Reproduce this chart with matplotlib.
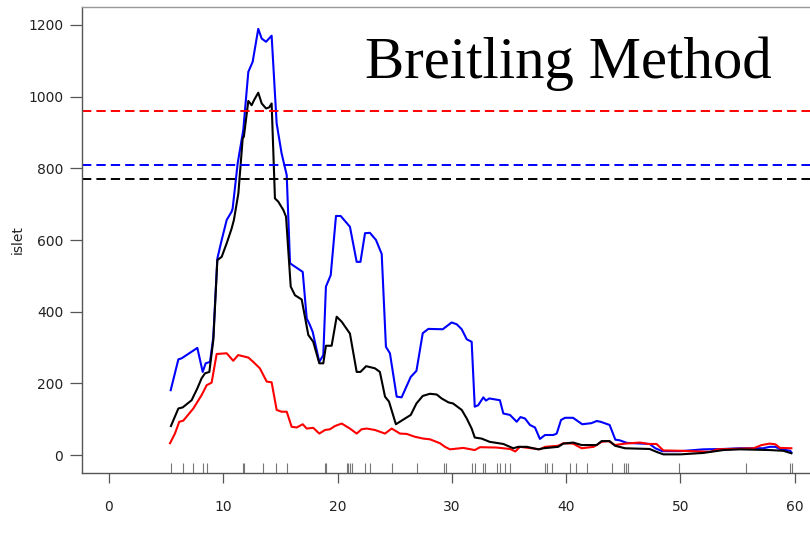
import matplotlib
matplotlib.use("Agg")
import matplotlib.pyplot as plt

# ---- data ----
blue_x = [5.4, 6.07, 6.36, 7.73, 8.2, 8.46, 8.84, 9.13, 9.48, 9.86, 10.3, 10.73, 10.82, 11.26, 11.75,
          12.19, 12.57, 13.06, 13.36, 13.74, 14.23, 14.67, 15.1, 15.55, 15.84, 16.95, 17.3, 17.52,
          17.82, 18.4, 18.75, 18.98, 19.4, 19.86, 20.27, 21.08, 21.67, 22.0, 22.4, 22.83, 23.36,
          23.86, 24.23, 24.58, 25.17, 25.6, 26.4, 26.9, 27.45, 27.94, 29.2, 29.98, 30.42, 30.86,
          31.3, 31.73, 32.0, 32.3, 32.75, 32.98, 33.27, 34.2, 34.5, 35.08, 35.67, 36.0, 36.4, 36.83,
          37.27, 37.7, 38.15, 38.87, 39.17, 39.55, 39.9, 40.6, 41.4, 42.2, 42.67, 43.0, 43.8, 44.3,
          44.7, 45.3, 47.3, 47.8, 48.4, 50.0, 52.0, 53.75, 55.2, 57.25, 57.8, 58.3, 58.7, 59.6, 59.7]
blue_y = [181, 267, 270, 299, 232, 256, 260, 330, 548, 600, 656, 679, 688, 814, 907,
          1069, 1097, 1189, 1162, 1153, 1170, 925, 842, 781, 535, 511, 381, 367,
          344, 260, 279, 470, 502, 667, 667, 637, 539, 539, 619, 620, 600,
          561, 302, 284, 163, 161, 218, 235, 340, 352, 351, 370, 365, 351,
          323, 316, 135, 139, 161, 152, 158, 153, 116, 112, 93, 106, 102, 84,
          77, 45, 56, 56, 60, 98, 104, 104, 86, 89, 95, 93, 84, 43,
          41, 34, 31, 19, 11, 11, 16, 17, 19, 19, 23, 23, 17, 12, 7]

black_x = [5.42, 6.07, 6.45, 7.23, 7.73, 8.1, 8.4, 8.78, 9.13, 9.48, 9.86, 10.3, 10.73, 10.93, 11.32,
           11.7, 11.8, 12.0, 12.19, 12.48, 12.69, 13.06, 13.36, 13.74, 14.02, 14.23, 14.52, 14.81,
           15.25, 15.49, 15.9, 16.27, 16.86, 17.44, 17.87, 18.4, 18.75, 18.98, 19.48, 19.92, 20.36,
           21.08, 21.67, 22.0, 22.5, 23.27, 23.7, 24.15, 24.5, 25.1, 25.9, 26.4, 26.9, 27.45, 28.08,
           28.67, 29.1, 29.7, 30.1, 30.86, 31.3, 31.73, 32.0, 32.6, 33.3, 34.5, 35.37, 35.8, 36.55,
           37.56, 38.0, 39.3, 39.75, 40.6, 41.35, 42.67, 43.1, 43.8, 44.27, 45.15, 47.3, 47.9, 48.5,
           50.0, 52.0, 53.75, 55.2, 57.8, 59.0, 59.7]
black_y = [81, 130, 133, 153, 186, 214, 228, 232, 321, 544, 553, 591, 632, 656, 730,
           884, 888, 939, 988, 976, 990, 1011, 981, 967, 970, 981, 716, 707,
           684, 665, 470, 446, 434, 335, 316, 256, 256, 305, 305, 386, 372,
           339, 232, 232, 248, 242, 232, 163, 149, 86, 102, 112, 144, 165, 171,
           169, 158, 147, 144, 126, 102, 74, 49, 46, 37, 31, 19, 23, 23,
           16, 19, 23, 32, 35, 28, 28, 39, 39, 26, 19, 17, 9, 2,
           2, 6, 14, 16, 14, 12, 5]

red_x = [5.34, 5.77, 6.15, 6.5, 7.38, 8.1, 8.55, 8.98, 9.42, 10.3, 10.87, 11.3, 12.2, 12.62, 13.2,
         13.8, 14.23, 14.67, 15.1, 15.55, 15.98, 16.42, 16.95, 17.3, 17.87, 18.4, 18.9, 19.33,
         19.77, 20.36, 21.08, 21.67, 22.1, 22.55, 23.27, 24.15, 24.73, 25.46, 26.05, 26.77, 27.5,
         28.08, 28.96, 29.4, 29.83, 31.0, 32.0, 32.46, 33.9, 35.1, 35.55, 35.95, 37.7, 38.15,
         39.3, 39.75, 40.6, 41.35, 42.4, 43.1, 43.7, 44.27, 45.15, 46.45, 47.2, 47.9, 48.5,
         50.0, 52.6, 53.2, 56.4, 57.1, 57.8, 58.3, 58.7, 59.7]
red_y = [33, 60, 93, 96, 130, 167, 195, 202, 282, 284, 263, 279, 272, 260, 242,
         205, 203, 126, 121, 121, 79, 77, 86, 74, 76, 60, 70, 72,
         81, 88, 74, 60, 72, 74, 70, 60, 74, 60, 59, 51, 46,
         44, 33, 23, 16, 20, 14, 22, 21, 17, 10, 23, 16, 23,
         26, 33, 32, 19, 23, 37, 39, 28, 32, 35, 31, 31, 13,
         12, 9, 16, 19, 28, 32, 30, 20, 19]

thresholds = [960, 810, 770]
threshold_colors = ["#ff0000", "#0000ff", "#000000"]

rug_x = [5.42, 6.45, 7.38, 8.20, 8.55, 11.75, 11.84, 13.45, 14.61, 15.55, 18.90, 19.03, 20.80,
         20.94, 21.08, 21.30, 22.37, 22.81, 24.73, 26.92, 29.29, 29.47, 31.73, 32.02, 32.69,
         32.90, 33.97, 34.25, 34.65, 35.08, 38.15, 38.36, 38.73, 40.33, 40.86, 41.79, 43.98,
         45.06, 45.23, 45.43, 49.90, 55.73, 59.58, 59.73]

x_ticks = [0, 10, 20, 30, 40, 50, 60]
y_ticks = [0, 200, 400, 600, 800, 1000, 1200]
title = "Breitling Method"
ylabel = "islet"

# ---- figure ----
fig = plt.figure(figsize=(8.1, 5.34), dpi=100)
ax = fig.add_axes([82 / 810, 61 / 534, 1 - 82 / 810, 466 / 534])

lw = 1.5
ax.plot(blue_x, blue_y, color="#0000ff", lw=lw, solid_joinstyle="round")
ax.plot(red_x, red_y, color="#ff0000", lw=lw, solid_joinstyle="round")
ax.plot(black_x, black_y, color="#000000", lw=lw, solid_joinstyle="round")

for v, c in zip(thresholds, threshold_colors):
    ax.axhline(v, color=c, lw=1.4, linestyle=(0, (4.8, 2.6)))

ax.vlines(rug_x, 0, 0.021, transform=ax.get_xaxis_transform(), color="#777777", lw=0.8)

ax.set_xlim(-2.36, 61.33)
ax.set_ylim(-50, 1250)
ax.set_xticks(x_ticks)
ax.set_yticks(y_ticks)

for s in ["left", "bottom"]:
    ax.spines[s].set_color("#555555")
    ax.spines[s].set_linewidth(1.0)
ax.spines["top"].set_color("#999999")
ax.spines["top"].set_linewidth(1.0)
ax.spines["right"].set_visible(False)

ax.tick_params(axis="y", direction="out", length=9, width=0.9, color="#555555",
               labelsize=10, labelcolor="#222222", pad=4.5)
ax.tick_params(axis="x", direction="out", length=7.2, width=0.9, color="#555555",
               labelsize=10, labelcolor="#222222", pad=12)

fig.text(17.5 / 810, 1 - 240 / 534, ylabel, rotation=90, ha="center", va="center",
         fontsize=10, color="#222222")
fig.text(365 / 810, 1 - 78 / 534, title, ha="left", va="baseline",
         fontsize=42.4, family="Liberation Serif", color="black")

fig.savefig("out.png", dpi=100)
